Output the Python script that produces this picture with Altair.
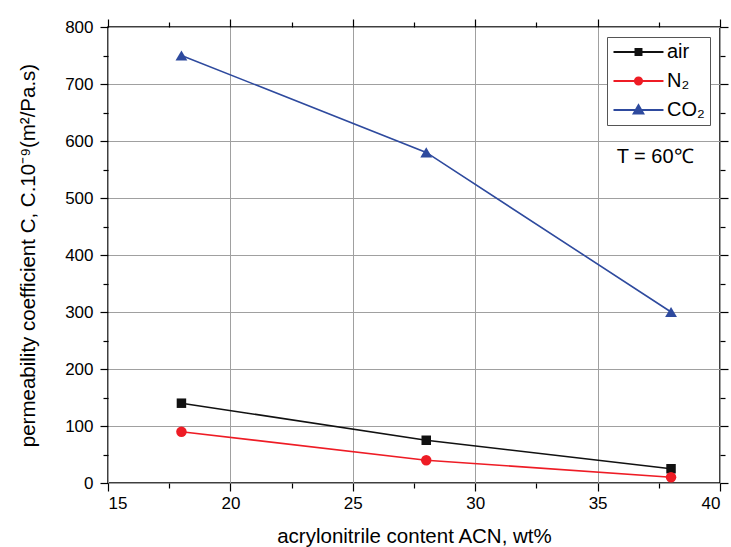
import altair as alt
import pandas as pd

# ---- data ----
acn = [18, 28, 38]
air = [140, 75, 25]
n2 = [90, 40, 10]
co2 = [750, 580, 300]
gases = ["air", "N₂", "CO₂"]
colors = ["#111111", "#ee1c25", "#2e4a9e"]
marker_shapes = ["square", "circle", "triangle-up"]
marker_sizes = [90, 110, 140]
x_major = [15, 20, 25, 30, 35, 40]
x_minor = [17.5, 22.5, 27.5, 32.5, 37.5]
y_major = [0, 100, 200, 300, 400, 500, 600, 700, 800]
y_minor = [50, 150, 250, 350, 450, 550, 650, 750]
note_text = ["T = 60℃"]
note_x = [37.35]
note_y = [572]

rows = []
for g, vals in zip(gases, [air, n2, co2]):
    for a, v in zip(acn, vals):
        rows.append({"acn": a, "value": v, "gas": g})
df = pd.DataFrame(rows)

FONT = "Liberation Sans"
xs = alt.Scale(domain=[15, 40], nice=False, zero=False)
ys = alt.Scale(domain=[0, 800], nice=False)

# legend symbols: line segment with a marker in the middle (custom paths)
LINE = "M-1,0L4.88,0"
legend_paths = [
    LINE + "M1.59,-0.35L2.29,-0.35L2.29,0.35L1.59,0.35Z",
    LINE + "M2.36,0A0.42,0.42,0,1,1,1.52,0A0.42,0.42,0,1,1,2.36,0Z",
    LINE + "M1.94,-0.55L2.5,0.42L1.38,0.42Z",
]


def axis(orient, values, size, labels=False, grid=False, title=None, **kw):
    return alt.Axis(orient=orient, values=values, tickSize=size, labels=labels,
                    grid=grid, domain=False, ticks=True, tickColor="black",
                    tickWidth=1.2, title=title, **kw)


x_main = axis("bottom", x_major, 8, labels=True, grid=True,
              title="acrylonitrile content ACN, wt%", format="d",
              labelPadding=4, titlePadding=15)
y_main = axis("left", y_major, 8, labels=True, grid=True,
              title="permeability coefficient C, C.10⁻⁹(m²/Pa.s)", format="d",
              labelPadding=7, titlePadding=26)

line_axes = [
    (x_main, y_main),
    (axis("bottom", x_minor, 5), axis("left", y_minor, 5)),
    (axis("top", x_major, 8), axis("right", y_major, 8)),
]
point_axes = [
    (axis("top", x_minor, 5), axis("right", y_minor, 5)),
    (None, None),
    (None, None),
]

base = alt.Chart(df)

line_layers = []
point_layers = []
for i, g in enumerate(gases):
    sub = base.transform_filter(alt.datum.gas == g)
    lx, ly = line_axes[i]
    line_layers.append(
        sub.mark_line(strokeWidth=1.6, color=colors[i]).encode(
            x=alt.X("acn:Q", scale=xs, axis=lx),
            y=alt.Y("value:Q", scale=ys, axis=ly),
        )
    )
    px, py = point_axes[i]
    point_layers.append(
        sub.mark_point(shape=marker_shapes[i], filled=True, size=marker_sizes[i],
                       opacity=1, color=colors[i]).encode(
            x=alt.X("acn:Q", scale=xs, axis=px),
            y=alt.Y("value:Q", scale=ys, axis=py),
        )
    )

note = alt.Chart(pd.DataFrame({"acn": note_x, "value": note_y, "t": note_text})).mark_text(
    font=FONT, fontSize=20, color="black"
).encode(
    x=alt.X("acn:Q", scale=xs, axis=None),
    y=alt.Y("value:Q", scale=ys, axis=None),
    text="t:N",
)

leg = alt.Legend(title=None, orient="none", legendX=499, legendY=10, padding=5,
                 strokeColor="#555555", fillColor="white", labelFont=FONT,
                 labelFontSize=20, labelColor="black", labelOffset=35,
                 rowPadding=9, symbolStrokeWidth=2, symbolSize=289,
                 symbolOpacity=1, labelLimit=200, direction="vertical")

# legend-only layer: its marks sit outside the canvas, only the legend shows
legend_layer = base.mark_point(filled=True, size=289, strokeWidth=2, opacity=1).encode(
    x=alt.value(-400),
    y=alt.value(-400),
    fill=alt.Fill("gas:N", scale=alt.Scale(domain=gases, range=colors), legend=leg),
    stroke=alt.Stroke("gas:N", scale=alt.Scale(domain=gases, range=colors), legend=leg),
    shape=alt.Shape("gas:N", scale=alt.Scale(domain=gases, range=legend_paths), legend=leg),
)

chart = alt.layer(*line_layers, *point_layers, note, legend_layer).resolve_axis(
    x="independent", y="independent"
).properties(
    width=612, height=456, autosize="none",
    padding={"left": 108, "top": 27, "right": 11, "bottom": 64},
).configure_view(stroke="black", strokeWidth=1.5).configure_axis(
    labelFont=FONT, titleFont=FONT, labelFontSize=17, titleFontSize=20.5,
    labelColor="black", titleColor="black", titleFontWeight="normal",
    gridColor="#a0a0a0", gridWidth=1,
)

chart.save("out.html", embed_options={"renderer": "svg", "actions": False})
